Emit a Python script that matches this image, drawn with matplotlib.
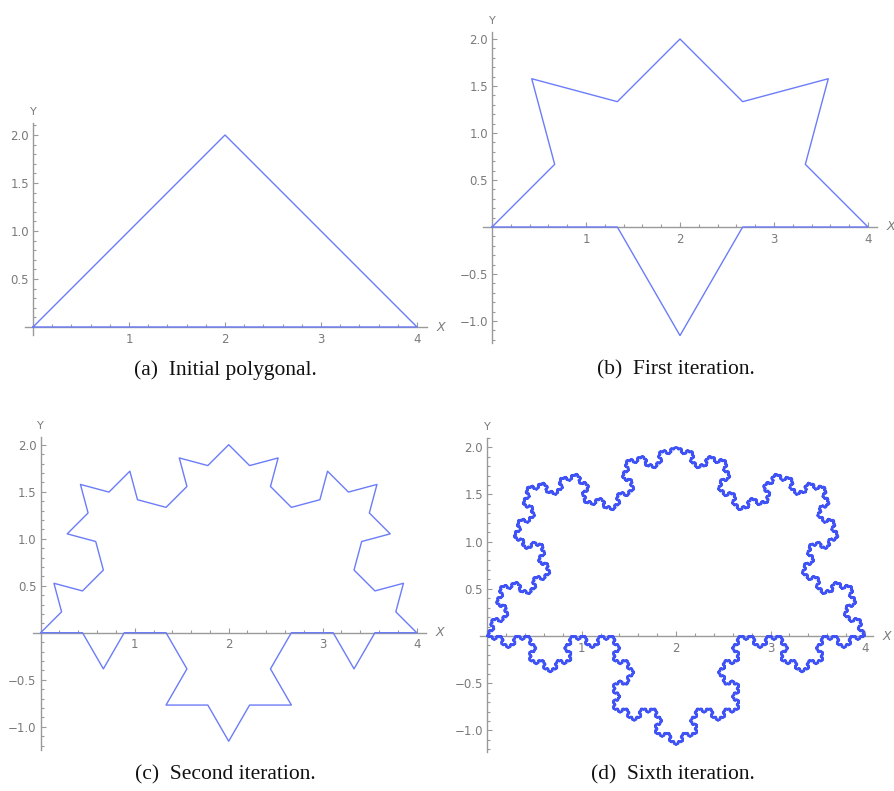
import numpy as np
import matplotlib.pyplot as plt
from matplotlib.ticker import MultipleLocator

# base polygonal (closed, clockwise) and the iteration shown in each panel
base_x = [0, 2, 4, 0]
base_y = [0, 2, 0, 0]
iterations = [0, 1, 2, 6]
captions = ["(a)  Initial polygonal.", "(b)  First iteration.",
            "(c)  Second iteration.", "(d)  Sixth iteration."]

x_ticks = [1, 2, 3, 4]
x_tick_labels = ["1", "2", "3", "4"]
y_ticks_pos = [0.5, 1.0, 1.5, 2.0]
y_tick_labels_pos = ["0.5", "1.0", "1.5", "2.0"]
y_ticks_neg = [-1.0, -0.5]
y_tick_labels_neg = ["\u22121.0", "\u22120.5"]


def refine(pts):
    # replace every edge by the four-edge bump, peak to the left of travel
    out = []
    rot = np.exp(1j * np.pi / 3)
    for a, b in zip(pts[:-1], pts[1:]):
        d = (b - a) / 3
        p1 = a + d
        p3 = a + 2 * d
        p2 = p1 + d * rot
        out += [a, p1, p2, p3]
    out.append(pts[-1])
    return np.array(out)


W, H = 895, 791
fig = plt.figure(figsize=(W / 100, H / 100), dpi=100)

# pixel origin, pixels per unit, x limits, y limits for each panel
layout = [
    ((33, 327), 96.0, (-0.08, 4.1), (-0.08, 2.12)),
    ((492, 227), 94.0, (-0.1, 4.1), (-1.23, 2.07)),
    ((40.7, 632.7), 94.0, (-0.08, 4.1), (-1.25, 2.08)),
    ((487.3, 636), 94.4, (-0.08, 4.09), (-1.23, 2.1)),
]
cap_pos = [(225, 370), (676, 370), (225, 775), (673, 775)]

line_color = "#6b7cf8"
dense_color = "#3e52f6"
axis_color = "#9a9a9a"
label_color = "#7a7a7a"

for i, ((ox, oy), s, xl, yl) in enumerate(layout):
    left = (ox + xl[0] * s) / W
    width = (xl[1] - xl[0]) * s / W
    bottom = 1 - (oy - yl[0] * s) / H
    height = (yl[1] - yl[0]) * s / H
    ax = fig.add_axes([left, bottom, width, height])

    pts = np.array(base_x, dtype=float) + 1j * np.array(base_y, dtype=float)
    for _ in range(iterations[i]):
        pts = refine(pts)
    if iterations[i] > 3:
        ax.plot(pts.real, pts.imag, color=dense_color, lw=1.4, zorder=3, clip_on=False)
    else:
        ax.plot(pts.real, pts.imag, color=line_color, lw=1.0, zorder=3, clip_on=False)

    ax.set_xlim(xl)
    ax.set_ylim(yl)
    for side in ["top", "right"]:
        ax.spines[side].set_visible(False)
    for side in ["left", "bottom"]:
        ax.spines[side].set_position("zero")
        ax.spines[side].set_color(axis_color)
        ax.spines[side].set_linewidth(1.0)

    ax.set_xticks(x_ticks, x_tick_labels)
    if yl[0] < -0.5:
        ax.set_yticks(y_ticks_neg + y_ticks_pos, y_tick_labels_neg + y_tick_labels_pos)
    else:
        ax.set_yticks(y_ticks_pos, y_tick_labels_pos)
    ax.xaxis.set_minor_locator(MultipleLocator(0.2))
    ax.yaxis.set_minor_locator(MultipleLocator(0.1))
    ax.tick_params(which="both", direction="in", color=axis_color, width=0.8,
                   labelsize=8.5, labelcolor=label_color)
    ax.tick_params(which="major", length=3.5)
    ax.tick_params(which="minor", length=2)
    ax.tick_params(axis="x", pad=4)
    ax.tick_params(axis="y", pad=3)
    ax.patch.set_alpha(0)

    ax.annotate("X", xy=(xl[1], 0), xytext=(10, 0), textcoords="offset points",
                ha="center", va="center", fontsize=9, color=label_color,
                style="italic", annotation_clip=False)
    ax.annotate("Y", xy=(0, yl[1]), xytext=(0, 8), textcoords="offset points",
                ha="center", va="center", fontsize=8, color=label_color,
                annotation_clip=False)

    cx, cy = cap_pos[i]
    fig.text(cx / W, 1 - cy / H, captions[i], ha="center", va="center",
             fontsize=15.5, family="Liberation Serif", color="#111111")

fig.savefig("out.png", dpi=100)
